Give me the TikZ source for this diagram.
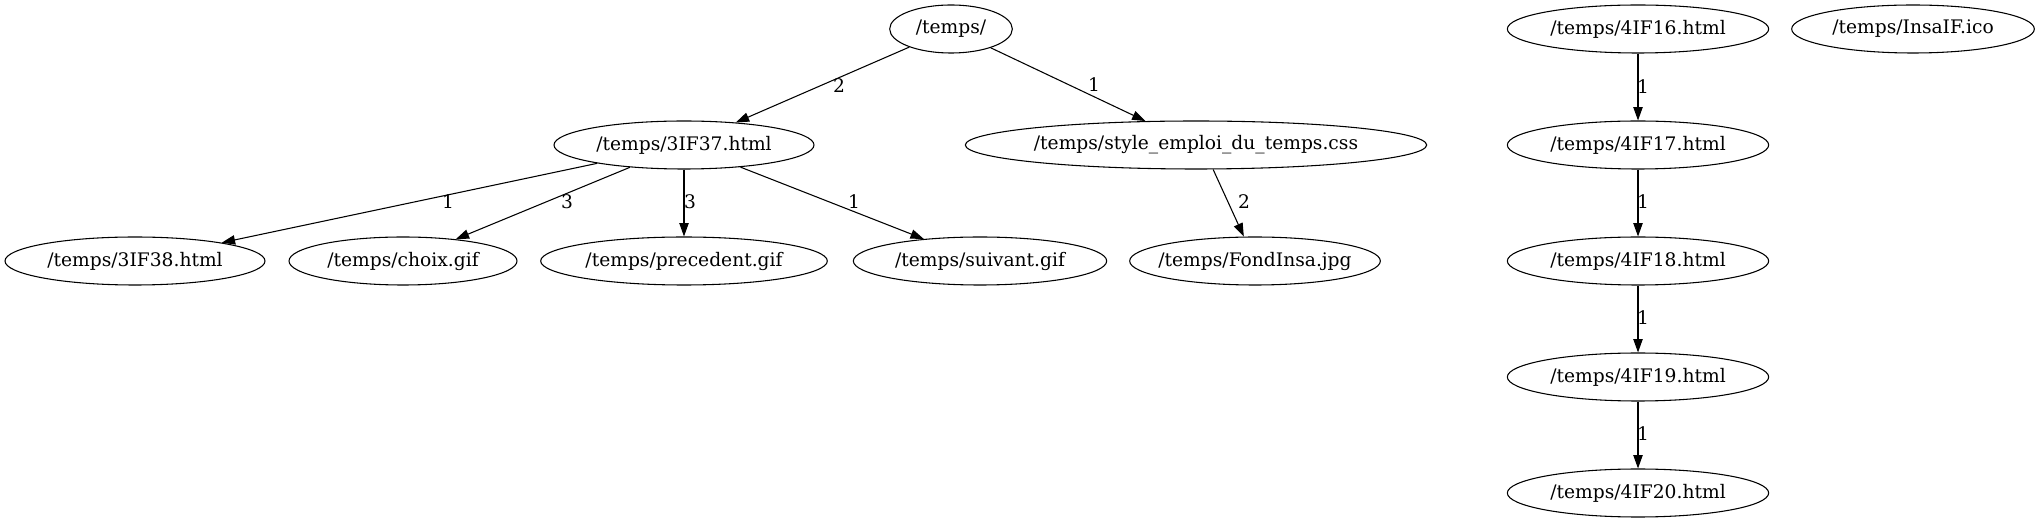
\documentclass[tikz,border=0pt]{standalone}
\usepackage{fontspec}
\setmainfont{DejaVu Serif}
\usetikzlibrary{shapes.geometric,arrows.meta}
\newcommand{\T}[1]{\makebox[0pt]{#1}}
\tikzset{
  ell/.style={draw, ellipse, minimum height=36pt, inner sep=0pt, line width=0.8pt,
    font=\fontsize{14}{16.8}\selectfont},
  lbl/.style={inner sep=0pt, font=\fontsize{14}{16.8}\selectfont},
  edge/.style={line width=0.8pt, -{Triangle[length=10pt,width=7pt]}}
}
\begin{document}
\begin{tikzpicture}[x=0.75pt,y=-0.75pt]
\useasboundingbox (0,0) rectangle (2039,523);
% nodes
\node[ell, minimum width=92pt]  (root) at (951,29)  {\T{/temps/}};
\node[ell, minimum width=195pt] (a37)  at (684,145) {\T{/temps/3IF37.html}};
\node[ell, minimum width=346pt] (css)  at (1196,145) {\T{/temps/style\_emploi\_du\_temps.css}};
\node[ell, minimum width=195pt] (a38)  at (135,261) {\T{/temps/3IF38.html}};
\node[ell, minimum width=171pt] (cho)  at (403,261) {\T{/temps/choix.gif}};
\node[ell, minimum width=215pt] (pre)  at (684,261) {\T{/temps/precedent.gif}};
\node[ell, minimum width=190pt] (sui)  at (980,261) {\T{/temps/suivant.gif}};
\node[ell, minimum width=188pt] (fon)  at (1255,261) {\T{/temps/FondInsa.jpg}};
\node[ell, minimum width=196pt] (b16)  at (1638,29)  {\T{/temps/4IF16.html}};
\node[ell, minimum width=182pt] (ico)  at (1913,29)  {\T{/temps/InsaIF.ico}};
\node[ell, minimum width=196pt] (b17)  at (1638,145) {\T{/temps/4IF17.html}};
\node[ell, minimum width=196pt] (b18)  at (1638,261) {\T{/temps/4IF18.html}};
\node[ell, minimum width=196pt] (b19)  at (1638,377) {\T{/temps/4IF19.html}};
\node[ell, minimum width=196pt] (b20)  at (1638,493) {\T{/temps/4IF20.html}};
% edges
\draw[edge] (root) -- (a37);
\draw[edge] (root) -- (css);
\draw[edge] (a37) -- (a38);
\draw[edge] (a37) -- (cho);
\draw[edge] (a37) -- (pre);
\draw[edge] (a37) -- (sui);
\draw[edge] (css.-55) -- (fon);
\draw[edge] (b16) -- (b17);
\draw[edge] (b17) -- (b18);
\draw[edge] (b18) -- (b19);
\draw[edge] (b19) -- (b20);
% labels
\node[lbl] (l1) at (839,86) {2};
\node[lbl] (l2) at (1094,85) {1};
\node[lbl] (l3) at (448,202) {1};
\node[lbl] (l4) at (567,202) {3};
\node[lbl] (l5) at (690,202) {3};
\node[lbl] (l6) at (854,202) {1};
\node[lbl] (l7) at (1244,202) {2};
\node[lbl] (l8) at (1643,87) {1};
\node[lbl] (l9) at (1643,202) {1};
\node[lbl] (l10) at (1643,318) {1};
\node[lbl] (l11) at (1643,434) {1};
\end{tikzpicture}
\end{document}
